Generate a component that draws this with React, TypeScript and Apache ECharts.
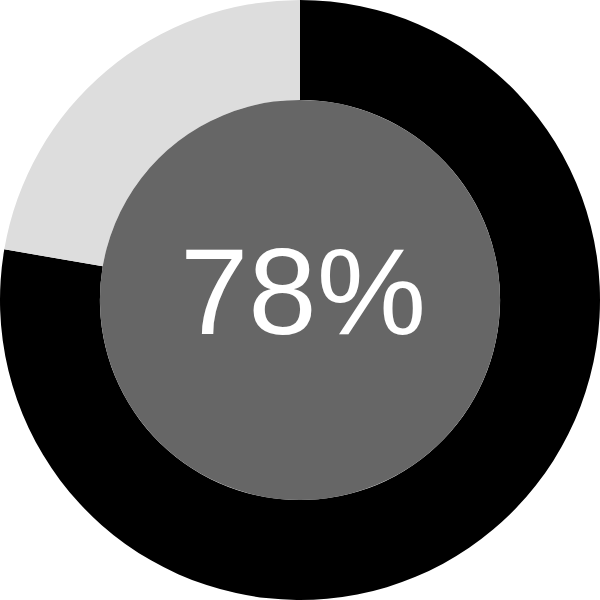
import React, { useEffect, useRef } from 'react';
import * as echarts from 'echarts';

const categories = ['Done', 'Remaining'];
const values = [77.7, 22.3];
const sliceColors = ['#000000', '#dddddd'];
const centerLabel = '78%';

const App: React.FC = () => {
  const chartRef = useRef<HTMLDivElement>(null);

  useEffect(() => {
    document.body.style.margin = '0';
    if (!chartRef.current) return;
    const myChart = echarts.init(chartRef.current, undefined, { renderer: 'svg' });
    const option: echarts.EChartsOption = {
      animation: false,
      series: [
        {
          type: 'pie',
          radius: ['66.7%', '100%'],
          center: ['50%', '50%'],
          startAngle: 90,
          clockwise: true,
          silent: true,
          label: { show: false },
          labelLine: { show: false },
          data: categories.map((name, i) => ({
            name,
            value: values[i],
            itemStyle: { color: sliceColors[i] }
          }))
        },
        {
          type: 'pie',
          radius: [0, '66.7%'],
          center: ['50%', '50%'],
          silent: true,
          label: { show: false },
          labelLine: { show: false },
          data: [{ name: 'center', value: 1, itemStyle: { color: '#666666' } }]
        }
      ],
      graphic: {
        elements: [
          {
            type: 'text',
            x: 303,
            y: 291,
            z: 100,
            silent: true,
            style: {
              text: centerLabel,
              fill: '#ffffff',
              fontSize: 123,
              fontFamily: 'Liberation Sans, Arial, sans-serif',
              align: 'center',
              verticalAlign: 'middle'
            }
          }
        ]
      }
    };
    myChart.setOption(option);
    return () => {
      myChart.dispose();
    };
  }, []);

  return <div ref={chartRef} style={{ width: 600, height: 600 }} />;
};

export default App;
